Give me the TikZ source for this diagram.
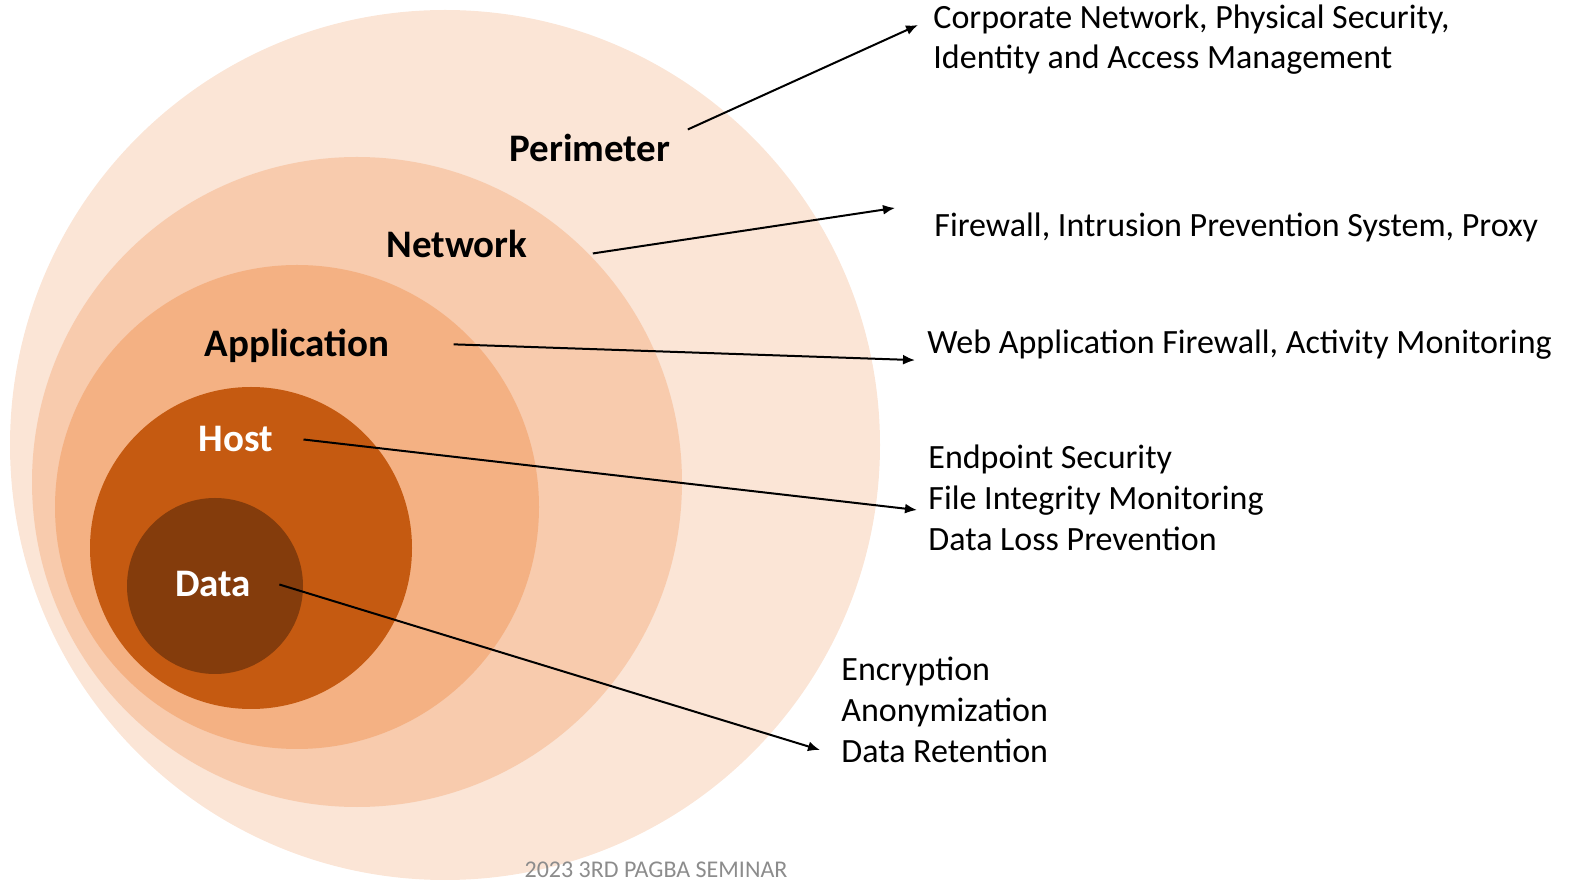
\documentclass[tikz,border=0pt]{standalone}
\usepackage{fontspec}
\setmainfont{Carlito}
\usetikzlibrary{arrows,arrows.meta,positioning}
\definecolor{perimFill}{HTML}{FBE5D6}
\definecolor{netFill}{HTML}{F8CBAD}
\definecolor{appFill}{HTML}{F4B183}
\definecolor{hostFill}{HTML}{C55A11}
\definecolor{dataFill}{HTML}{843C0C}
\tikzset{
  ring/.style={circle, inner sep=0pt, minimum size=#1},
  layer/.style={font=\fontsize{19.5}{23}\selectfont\bfseries, inner sep=0pt, anchor=base},
  measure/.style={font=\fontsize{17}{20.5}\selectfont, inner sep=0pt, align=left},
  line/.style={draw, line width=1pt, -{Latex[length=6pt,width=5pt]}},
}

\begin{document}
\begin{tikzpicture}[x=0.5pt, y=-0.5pt]
    \useasboundingbox (0,0) rectangle (1575,881);
    % Rings
    \node [ring=435pt, fill=perimFill] (perimRing) at (445,445) {};
    \node [ring=325pt, fill=netFill] (netRing) at (357,482) {};
    \node [ring=242pt, fill=appFill] (appRing) at (297,507) {};
    \node [ring=161pt, fill=hostFill] (hostRing) at (251,548) {};
    \node [ring=88pt, fill=dataFill] (dataRing) at (215,586) {};
    % Layer names
    \node [layer] (perim) at (590,162) {Perimeter};
    \node [layer] (net) at (457,258) {Network};
    \node [layer] (app) at (297,357) {Application};
    \node [layer, text=white] (host) at (236,452) {Host};
    \node [layer, text=white] (data) at (213,597) {Data};
    % Measures
    \node [measure, anchor=north west] (corp) at (933,4)
        {Corporate Network, Physical Security,\\Identity and Access Management};
    \node [measure, anchor=base west] (fire) at (934,237)
        {Firewall, Intrusion Prevention System, Proxy};
    \node [measure, anchor=base west] (web) at (927,354)
        {Web Application Firewall, Activity Monitoring};
    \node [measure, anchor=north west] (endp) at (928,444)
        {Endpoint Security\\File Integrity Monitoring\\Data Loss Prevention};
    \node [measure, anchor=north west] (enc) at (841,657)
        {Encryption\\Anonymization\\Data Retention};
    \node [font=\fontsize{12}{14}\selectfont, text=black!45, inner sep=0pt, anchor=base]
        (footer) at (656,877) {2023 3RD PAGBA SEMINAR};
    % Draw edges
    \path [line] ([shift={(17,-19)}]perim.east) -- ([shift={(-15,21)}]corp.north west);
    \path [line] ([shift={(65,9)}]net.east) -- ([shift={(-39,-20)}]fire.west);
    \path [line] ([shift={(64,-2)}]app.east) -- ([shift={(-12,15)}]web.west);
    \path [line] ([shift={(30,0)}]host.east) -- ([shift={(-11,66)}]endp.north west);
    \path [line] ([shift={(28,0)}]data.east) -- ([shift={(-21,93)}]enc.north west);
\end{tikzpicture}
\end{document}
